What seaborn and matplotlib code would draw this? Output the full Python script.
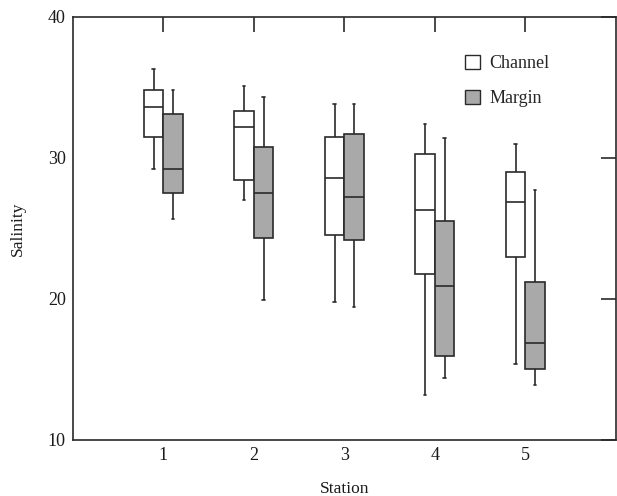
import numpy as np
import pandas as pd
import matplotlib
matplotlib.use("Agg")
import matplotlib.pyplot as plt
import seaborn as sns
from matplotlib.patches import Patch

stations = ["1", "2", "3", "4", "5"]
# five-number summaries (min, q1, median, q3, max)
channel_min = [29.2, 27.0, 19.8, 13.2, 15.4]
channel_q1 = [31.45, 28.4, 24.55, 21.8, 23.0]
channel_med = [33.6, 32.2, 28.6, 26.3, 26.9]
channel_q3 = [34.8, 33.3, 31.45, 30.3, 29.0]
channel_max = [36.3, 35.1, 33.8, 32.4, 31.0]

margin_min = [25.7, 19.9, 19.4, 14.4, 13.9]
margin_q1 = [27.5, 24.3, 24.2, 15.95, 15.0]
margin_med = [29.2, 27.5, 27.2, 20.9, 16.9]
margin_q3 = [33.1, 30.8, 31.7, 25.5, 21.2]
margin_max = [34.8, 34.3, 33.8, 31.4, 27.7]

groups = ["Channel", "Margin"]
colors = {"Channel": "#ffffff", "Margin": "#a9a9a9"}

rows = []
summ = {
    "Channel": [channel_min, channel_q1, channel_med, channel_q3, channel_max],
    "Margin": [margin_min, margin_q1, margin_med, margin_q3, margin_max],
}
for g in groups:
    for i, s in enumerate(stations):
        for arr in summ[g]:
            rows.append({"Station": s, "Group": g, "Salinity": arr[i]})
df = pd.DataFrame(rows)

sns.set_style("white")
plt.rcParams["font.family"] = ["Liberation Serif", "DejaVu Serif"]

fig = plt.figure(figsize=(6.17, 4.96), dpi=100)
ax = fig.add_axes([0.118, 0.113, 0.880, 0.853])

lc = "#2a2a2a"
sns.boxplot(data=df, x="Station", y="Salinity", hue="Group", order=stations,
            hue_order=groups, palette=colors, width=0.43, gap=0, whis=(0, 100),
            linewidth=1.2, linecolor=lc, showfliers=False, saturation=1,
            legend=False, ax=ax, capwidths=0.03)

ax.set_xlim(-1, 5)
ax.set_ylim(10, 40)
ax.set_yticks([10, 20, 30, 40])
ax.set_xticks(range(5))
ax.set_xticklabels(stations)
ax.tick_params(axis="both", direction="in", length=11, width=1.2, color=lc,
               labelsize=13, top=True, right=True, labelcolor="#1a1a1a")
ax.tick_params(axis="x", pad=5)
ax.tick_params(axis="y", pad=5)
for sp in ax.spines.values():
    sp.set_color(lc)
    sp.set_linewidth(1.2)
ax.set_xlabel("Station", fontsize=12.5, labelpad=12, color="#1a1a1a")
ax.set_ylabel("Salinity", fontsize=12.5, labelpad=16, color="#1a1a1a")

handles = [Patch(facecolor=colors[g], edgecolor=lc, linewidth=1.0) for g in groups]
ax.legend(handles, groups, loc="upper left", bbox_to_anchor=(0.722, 0.91),
          frameon=False, fontsize=13, handlelength=0.85, handleheight=0.85,
          handletextpad=0.5, labelspacing=0.95, borderpad=0, borderaxespad=0)

fig.savefig("out.png", dpi=100)
